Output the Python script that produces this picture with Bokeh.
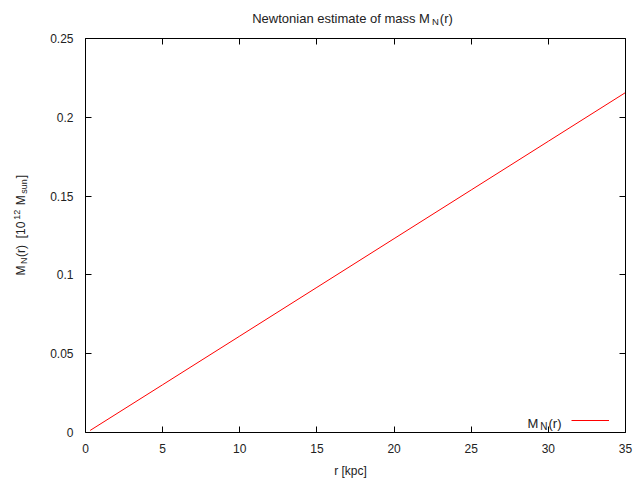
import math
from bokeh.plotting import figure
from bokeh.models import (Range1d, FixedTicker, NumeralTickFormatter, LinearAxis,
                          CustomJSTickFormatter, Label, Legend, LegendItem)
from bokeh.embed import file_html
from bokeh.resources import INLINE

# ---- data ----
r_kpc = [0.3, 5, 10, 15, 20, 25, 30, 35]
M_N = [0.0013, 0.0303, 0.0612, 0.0921, 0.1230, 0.1539, 0.1848, 0.2157]
x_ticks = [0, 5, 10, 15, 20, 25, 30, 35]
y_ticks = [0, 0.05, 0.1, 0.15, 0.2, 0.25]
x_range = (0, 35)
y_range = (0, 0.25)

FONT = "Liberation Sans"
W, H = 641, 478
# plot box geometry (canvas pixels of the reference)
FL, FR, FT, FB = 85, 625, 38, 432

# pixel -> data helpers (frame covers the whole canvas)
def sx(px):
    return x_range[0] + (px - FL) / (FR - FL) * (x_range[1] - x_range[0])

def sy(py):
    return y_range[0] + (FB - py) / (FB - FT) * (y_range[1] - y_range[0])

p = figure(width=W, height=H, output_backend="svg", toolbar_location=None,
           x_range=Range1d(sx(0), sx(W)), y_range=Range1d(sy(H), sy(0)),
           x_axis_location=None, y_axis_location=None,
           min_border=0, min_border_left=0, min_border_right=0,
           min_border_top=0, min_border_bottom=0)
p.title.visible = False
p.xgrid.visible = False
p.ygrid.visible = False
p.outline_line_color = None
p.background_fill_color = "white"
p.border_fill_color = "white"

line = p.line(r_kpc, M_N, line_color="#ff0000", line_width=1)

def make_axis(side, ticks, loc, bounds, show_labels, standoff):
    ax = LinearAxis(fixed_location=loc, bounds=bounds)
    ax.ticker = FixedTicker(ticks=ticks)
    ax.axis_line_color = "black"
    ax.axis_line_width = 1
    ax.major_tick_in = 6
    ax.major_tick_out = 0
    ax.minor_tick_line_color = None
    ax.major_tick_line_color = "black"
    ax.major_label_text_font = FONT
    ax.major_label_text_font_size = "12px"
    ax.major_label_text_color = "#222222"
    ax.major_label_standoff = standoff
    if not show_labels:
        ax.formatter = CustomJSTickFormatter(code="return ''")
    p.add_layout(ax, side)
    return ax

make_axis("below", x_ticks, y_range[0], x_range, True, 11)
yax = make_axis("left", y_ticks, x_range[0], y_range, True, 12)
yax.formatter = NumeralTickFormatter(format="0.[00]")
make_axis("above", x_ticks, y_range[1], x_range, False, 0)
make_axis("right", y_ticks, x_range[1], y_range, False, 0)

AW = {'N': 722, 'e': 556, 'w': 722, 't': 278, 'o': 556, 'n': 556, 'i': 222, 'a': 556,
      ' ': 278, 's': 500, 'm': 833, 'f': 278, 'M': 833, '(': 333, ')': 333, 'r': 333,
      '[': 278, ']': 278, '1': 556, '0': 556, '2': 556, 'u': 556, 'k': 500, 'p': 556,
      'c': 500}

def tw(s, size):
    return sum(AW.get(c, 556) for c in s) / 1000.0 * size

def add_text(txt, px, py, size, angle=0.0, align="left"):
    p.add_layout(Label(x=sx(px), y=sy(py), text=txt, text_font=FONT,
                       text_font_size=f"{size}px", text_color="#222222",
                       text_align=align, text_baseline="alphabetic", angle=angle))

def add_run(pieces, px, py, horizontal=True):
    # pieces: (text, size, baseline shift px (positive = lower), extra gap before px)
    pos = 0.0
    for txt, size, shift, gap in pieces:
        lead = len(txt) - len(txt.lstrip(" "))
        pos += gap + tw(" " * lead, size)
        body = txt.lstrip(" ")
        if body:
            if horizontal:
                add_text(body, px + pos, py + shift, size)
            else:
                add_text(body, px + shift, py - pos, size, angle=math.pi / 2)
        pos += tw(body, size)
    return pos

def run_width(pieces):
    return sum(tw(t, s) + g for t, s, _, g in pieces)

# title
title_pieces = [("Newtonian estimate of mass M", 13, 0, 0), ("N", 9.5, 3, 2),
                ("(r)", 13, 0, 1)]
add_run(title_pieces, 352 - run_width(title_pieces) / 2, 18)

# x axis label
add_text("r [kpc]", 350, 470, 12, align="center")

# y axis label (rotated)
ylab_pieces = [("M", 12, 0, 0), ("N", 9, 3, 1.5), ("(r)", 12, 0, 0.5),
               ("  [10", 12, 0, 0), ("12", 9, -4, 2), (" M", 12, 0, 1),
               ("sun", 9, 3, 1.5), ("]", 12, 0, 1)]
add_run(ylab_pieces, 20, 275, horizontal=False)

# legend text
leg_pieces = [("M", 13, 0, 0), ("N", 10, 3, 2), ("(r)", 13, 0, 1)]
add_run(leg_pieces, 561 - run_width(leg_pieces), 423)

# legend sample line
legend = Legend(items=[LegendItem(label=" ", renderers=[line])],
                location=(571, H - 426), padding=0, margin=0, spacing=0,
                glyph_width=38, glyph_height=12, label_standoff=0, label_width=0,
                label_height=12, label_text_font_size="2px",
                border_line_color=None, background_fill_alpha=0)
p.add_layout(legend)

open("out.html", "w").write(file_html(p, INLINE))
